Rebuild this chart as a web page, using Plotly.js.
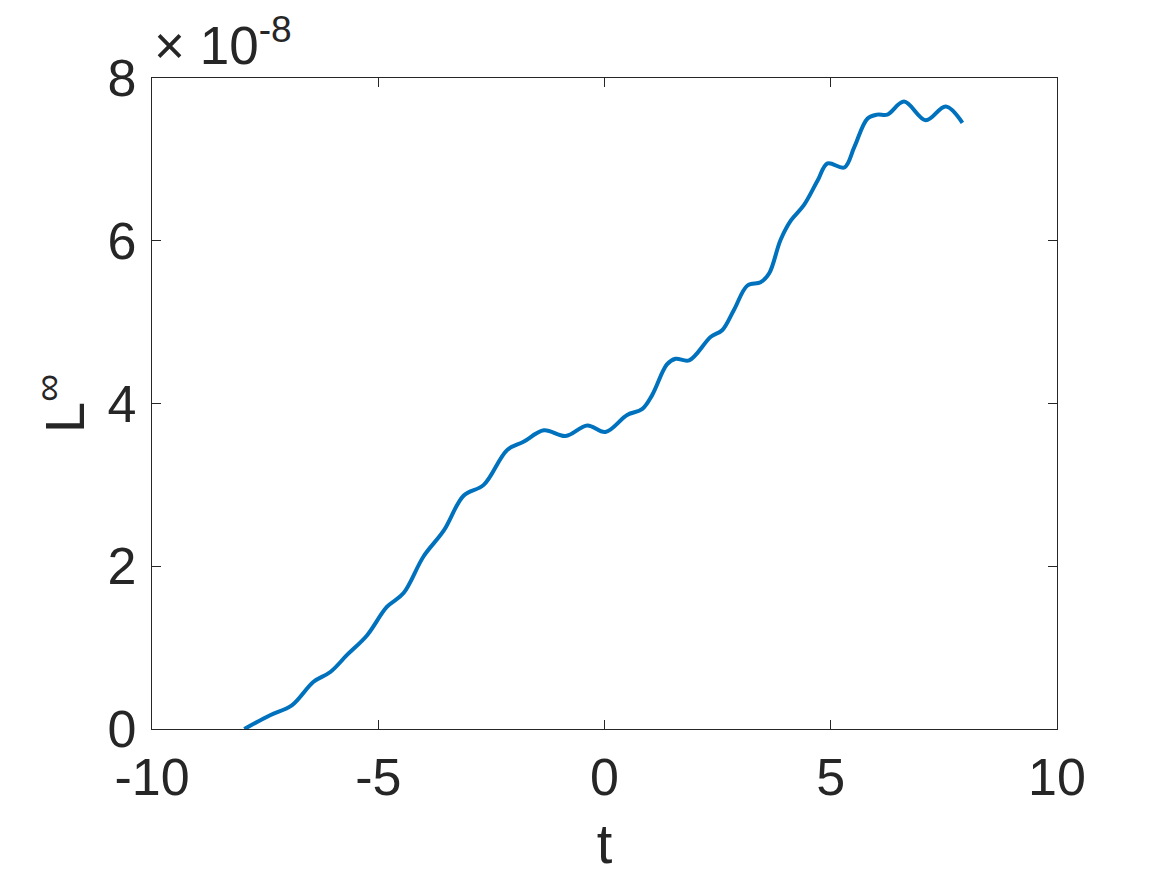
<!DOCTYPE html>
<html>
<head>
<meta charset="utf-8">
<script src="https://cdn.plot.ly/plotly-3.0.1.min.js"></script>
<style>html,body{margin:0;padding:0;background:#fff;}#chart{width:1167px;height:875px;}</style>
</head>
<body>
<div id="chart"></div>
<script>
// time values
const tValues = [-7.96,-7.39,-6.91,-6.43,-6.06,-5.69,-5.25,-4.81,-4.44,-4.0,-3.55,-3.11,-2.67,-2.15,-1.79,-1.34,-0.86,-0.38,0.02,0.50,0.83,1.05,1.38,1.57,1.87,2.35,2.60,2.86,3.16,3.45,3.64,3.89,4.12,4.41,4.71,4.93,5.30,5.52,5.81,6.03,6.25,6.62,7.10,7.54,7.91];
// L-infinity error, in units of 1e-8
const lInfScaled = [0.0,0.17,0.29,0.58,0.70,0.91,1.15,1.50,1.67,2.12,2.44,2.87,3.0,3.43,3.53,3.67,3.60,3.73,3.65,3.86,3.93,4.10,4.48,4.55,4.53,4.82,4.90,5.15,5.45,5.49,5.60,6.01,6.25,6.44,6.74,6.95,6.90,7.15,7.50,7.55,7.55,7.71,7.48,7.65,7.45];
const xTickVals = [-10,-5,0,5,10];
const xTickText = ["-10","-5","0","5","10"];
const yTickVals = [0,2,4,6,8];
const yTickText = ["0","2","4","6","8"];

const font = "Liberation Sans, Arial, Helvetica, sans-serif";
const axisColor = "#262626";

const trace = {
  x: tValues, y: lInfScaled, type: "scatter", mode: "lines",
  line: {color: "#0072BD", width: 4, shape: "spline", smoothing: 1},
  hoverinfo: "skip"
};

const layout = {
  width: 1167, height: 875,
  margin: {l: 152, r: 110, t: 78, b: 146, pad: 0},
  paper_bgcolor: "#fff", plot_bgcolor: "#fff",
  showlegend: false,
  font: {family: font, color: axisColor, size: 52},
  xaxis: {
    range: [-10, 10], tickvals: xTickVals, ticktext: xTickText,
    ticks: "inside", ticklen: 9, tickwidth: 1, tickcolor: axisColor,
    showline: true, linecolor: axisColor, linewidth: 1.2, mirror: "ticks",
    showgrid: false, zeroline: false,
    tickfont: {family: font, size: 52, color: axisColor},
    ticklabelstandoff: 2,
    title: {text: "t", font: {family: font, size: 56, color: axisColor}, standoff: 20}
  },
  yaxis: {
    range: [0, 8], tickvals: yTickVals, ticktext: yTickText,
    ticks: "inside", ticklen: 9, tickwidth: 1, tickcolor: axisColor,
    showline: true, linecolor: axisColor, linewidth: 1.2, mirror: "ticks",
    showgrid: false, zeroline: false,
    tickfont: {family: font, size: 52, color: axisColor},
    ticklabelstandoff: 4,
    title: {text: "L<sup>∞</sup>", font: {family: font, size: 56, color: axisColor}, standoff: 4}
  },
  annotations: [{
    xref: "paper", yref: "paper", x: 0, y: 1, xanchor: "left", yanchor: "bottom",
    xshift: 0, yshift: 1,
    text: "× 10<sup>-8</sup>", showarrow: false,
    font: {family: font, size: 53, color: axisColor}
  }]
};

Plotly.newPlot("chart", [trace], layout, {displayModeBar: false, staticPlot: true});
</script>
</body>
</html>
